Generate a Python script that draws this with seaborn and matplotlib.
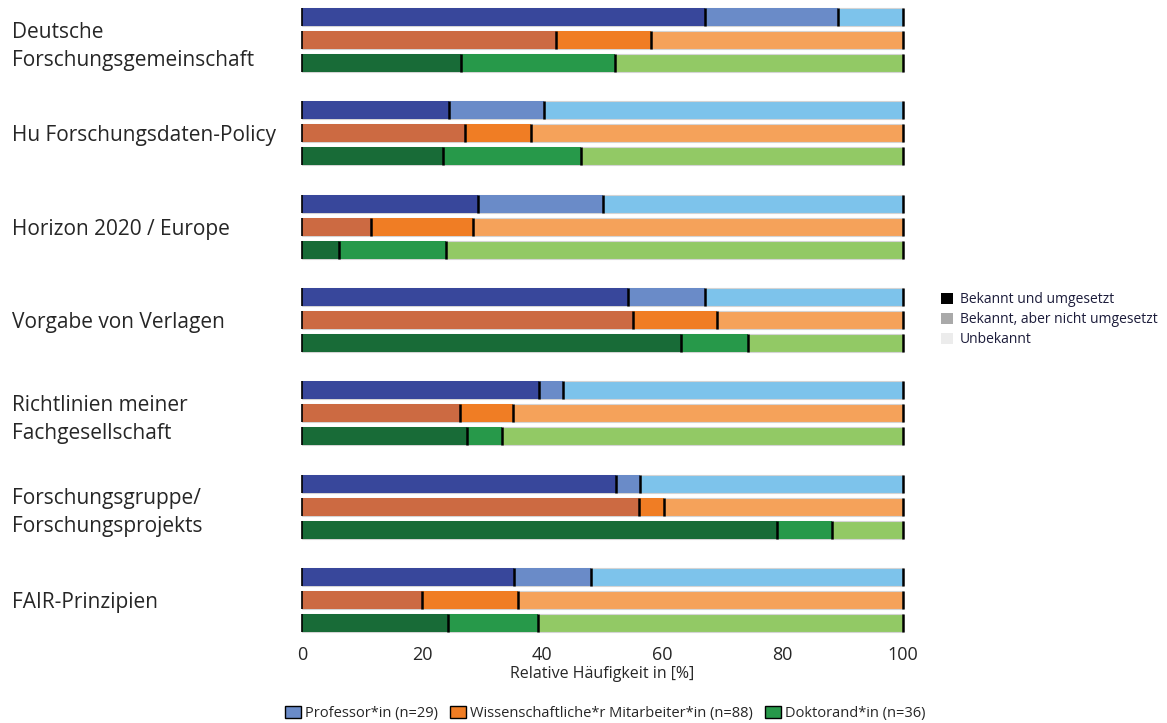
import numpy as np
import pandas as pd
import matplotlib
matplotlib.use("Agg")
import matplotlib.pyplot as plt
from matplotlib.patches import Patch
import seaborn as sns

categories = ["Deutsche\nForschungsgemeinschaft", "Hu Forschungsdaten-Policy",
              "Horizon 2020 / Europe", "Vorgabe von Verlagen",
              "Richtlinien meiner\nFachgesellschaft", "Forschungsgruppe/\nForschungsprojekts",
              "FAIR-Prinzipien"]
groups = ["Professor*in (n=29)", "Wissenschaftliche*r Mitarbeiter*in (n=88)", "Doktorand*in (n=36)"]

# percentages: known & implemented / known but not implemented / unknown
prof_impl = [67.1, 24.4, 29.3, 54.2, 39.4, 52.2, 35.2]
prof_known = [22.1, 15.9, 20.7, 12.9, 4.0, 4.0, 12.9]
wm_impl = [42.2, 27.2, 11.4, 55.1, 26.3, 56.1, 20.0]
wm_known = [15.9, 10.9, 17.0, 13.9, 8.8, 4.2, 16.0]
dok_impl = [26.4, 23.4, 6.1, 63.0, 27.4, 79.0, 24.3]
dok_known = [25.7, 23.0, 17.9, 11.2, 5.8, 9.2, 15.0]
total = [100.0] * 7

status_labels = ["Bekannt und umgesetzt", "Bekannt, aber nicht umgesetzt", "Unbekannt"]

dark = {groups[0]: "#38479B", groups[1]: "#CC6A42", groups[2]: "#186B37"}
mid = {groups[0]: "#6A8BC8", groups[1]: "#F07D24", groups[2]: "#27994A"}
light = {groups[0]: "#7DC3EB", groups[1]: "#F5A25A", groups[2]: "#92C965"}

rows = []
for g, impl, known in zip(groups, [prof_impl, wm_impl, dok_impl], [prof_known, wm_known, dok_known]):
    for c, a, b, t in zip(categories, impl, known, total):
        rows.append({"cat": c, "group": g, "impl": a, "known": a + b, "total": t})
df = pd.DataFrame(rows)

sns.set_theme(style="white")
plt.rcParams["font.family"] = ["Open Sans", "DejaVu Sans"]

fig = plt.figure(figsize=(11.67, 7.23), dpi=100)
ax = fig.add_axes([302 / 1167, 83 / 723, 601 / 1167, 640 / 723])

layers = [("total", light, "#D4D4D4"), ("known", mid, "none"), ("impl", dark, "none")]
for col, pal, ec in layers:
    n0 = len(ax.patches)
    sns.barplot(data=df, y="cat", x=col, hue="group", hue_order=groups, order=categories,
                palette=pal, orient="h", dodge=True, width=0.74, gap=0.22, saturation=1,
                edgecolor=ec, linewidth=0.8, legend=False, ax=ax, errorbar=None)
    for p in ax.patches[n0:]:
        p.set_clip_on(False)
        y0, h, w = p.get_y(), p.get_height(), p.get_width()
        ax.vlines(w, y0, y0 + h, color="black", linewidth=1.8, zorder=5, clip_on=False)
        if col == "total":
            ax.vlines(0, y0, y0 + h, color="black", linewidth=1.2, zorder=5, clip_on=False)

ax.set_xlim(0, 100)
ax.set_ylim(6.43, -0.43)
for s in ax.spines.values():
    s.set_visible(False)
ax.set_xticks([0, 20, 40, 60, 80, 100])
ax.tick_params(axis="x", length=0, labelsize=13, pad=4)
ax.set_xlabel("Relative Häufigkeit in [%]", fontsize=11.5, labelpad=2)
ax.set_ylabel("")
ax.tick_params(axis="y", length=0, pad=290 * 72 / 100)
ax.set_yticks(range(len(categories)))
ax.set_yticklabels(categories, ha="left", fontsize=15, linespacing=1.45)

h_status = [Patch(facecolor=c, edgecolor="none") for c in ["#000000", "#A9A9A9", "#ECECEC"]]
fig.legend(h_status, status_labels, loc="upper left", bbox_to_anchor=(928 / 1167, 1 - 280 / 723),
           frameon=False, fontsize=10, handlelength=0.9, handleheight=0.9, handletextpad=0.5,
           labelspacing=0.35, labelcolor="#1C1C3A")

h_groups = [Patch(facecolor=mid[g], edgecolor="black", linewidth=1) for g in groups]
fig.legend(h_groups, groups, loc="lower center", bbox_to_anchor=(605 / 1167, -0.015), ncol=3,
           frameon=False, fontsize=10.5, handlelength=1.1, handleheight=0.9, handletextpad=0.3,
           columnspacing=0.8)

fig.savefig("out.png", dpi=100)
